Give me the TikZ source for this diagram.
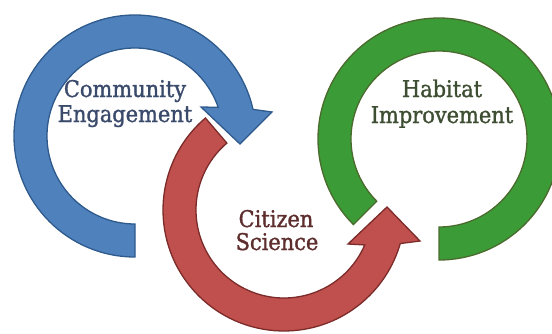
\documentclass[tikz,border=0pt]{standalone}
\usepackage{fontspec}
\setmainfont[FakeStretch=0.91, FakeBold=1.3]{DejaVu Serif}
\usetikzlibrary{calc}
\definecolor{bluefill}{HTML}{4F81BD}
\definecolor{blueline}{HTML}{2E5A8C}
\definecolor{redfill}{HTML}{C0504D}
\definecolor{redline}{HTML}{7B2B29}
\definecolor{greenfill}{HTML}{3A9B37}
\definecolor{greenline}{HTML}{4B6A2E}
\definecolor{bluetext}{HTML}{3A4A6A}
\definecolor{redtext}{HTML}{5E2E2E}
\definecolor{greentext}{HTML}{3E4E33}
\begin{document}
\begin{tikzpicture}[x=1pt,y=1pt,
  band/.style={line width=1.3pt, line join=miter},
  lbl/.style={anchor=base, inner sep=0pt, font=\fontsize{23}{25}\selectfont}]
\useasboundingbox (0,0) rectangle (552,333);
\clip (0,0) rectangle (552,333);

% centres of the three rings
\coordinate (bc) at (135,197);
\coordinate (rc) at (284,123);
\coordinate (gc) at (439,194);

% blue: clockwise arrow from the bottom round to the right
\filldraw[band, fill=bluefill, draw=blueline]
  ($(bc)+(270:121)$) arc[start angle=270, end angle=12.7, radius=121]
  -- (272,221) -- (240,189) -- (201,226)
  -- ($(bc)+(19:88)$) arc[start angle=19, end angle=270, radius=88] -- cycle;

% red: counter-clockwise arrow from the upper left round the bottom
\filldraw[band, fill=redfill, draw=redline]
  ($(rc)+(130.5:121)$) arc[start angle=130.5, end angle=343.9, radius=121]
  -- (420,92) -- (387,126) -- (348,89)
  -- ($(rc)+(336.6:88)$) arc[start angle=336.6, end angle=130.5, radius=88] -- cycle;

% green: open ring
\filldraw[band, fill=greenfill, draw=greenline]
  ($(gc)+(225:121)$) arc[start angle=225, end angle=-90, radius=121]
  -- ($(gc)+(-90:88)$) arc[start angle=-90, end angle=225, radius=88] -- cycle;

% labels
\node[lbl, text=bluetext] (ce1) at (125,236) {Community};
\node[lbl, text=bluetext] (ce2) at (125,211) {Engagement};
\node[lbl, text=redtext] (cs1) at (276,106) {Citizen};
\node[lbl, text=redtext] (cs2) at (277,83) {Science};
\node[lbl, text=greentext] (hi1) at (442,236) {Habitat};
\node[lbl, text=greentext] (hi2) at (442,210) {Improvement};
\end{tikzpicture}
\end{document}
